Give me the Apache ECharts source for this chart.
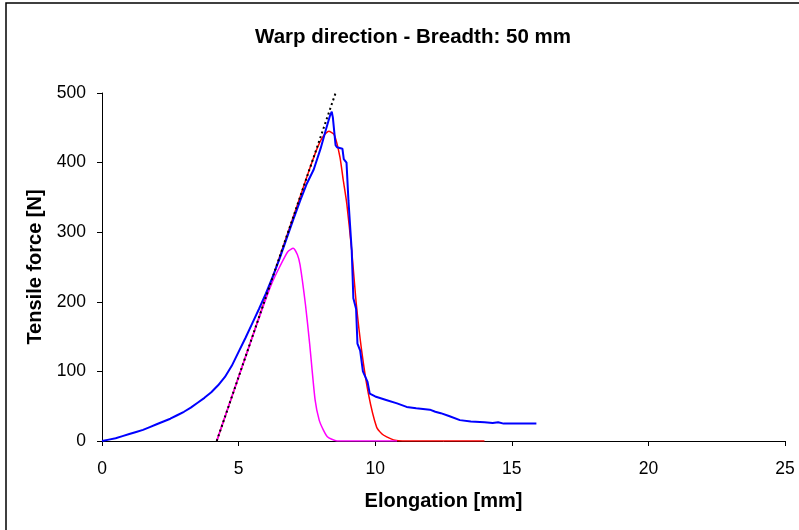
<!DOCTYPE html>
<html><head><meta charset="utf-8">
<script src="https://cdn.jsdelivr.net/npm/echarts@6/dist/echarts.min.js"></script>
<style>html,body{margin:0;padding:0;background:#fff}#c{width:799px;height:530px}</style>
</head><body><div id="c"></div>
<script>
const titleText = 'Warp direction - Breadth: 50 mm';
const xName = 'Elongation [mm]';
const yName = 'Tensile force [N]';
const xTicks = [0, 5, 10, 15, 20, 25];
const yTicks = [0, 100, 200, 300, 400, 500];

const measuredX = [0,0.25,0.5,0.75,1.0,1.25,1.5,1.75,2.0,2.25,2.5,2.75,3.0,3.25,3.5,3.75,4.0,4.25,4.5,4.75,5.0,5.25,5.5,5.75,6.0,6.25,6.5,6.75,7.0,7.25,7.5,7.75,8.0,8.2,8.35,8.41,8.45,8.5,8.55,8.6,8.8,8.85,8.95,9.02,9.14,9.2,9.3,9.35,9.45,9.55,9.72,9.8,10.0,10.4,10.8,11.15,11.5,12.0,12.2,12.4,12.7,13.1,13.5,14.0,14.3,14.5,14.7,15.0,15.9];
const measuredY = [0,2,4,7,10,13,16,20,24,28,32,37,42,48,55,62,70,80,92,108,128,148,169,190,212,236,262,290,318,345,370,390,420,448,468,473,465,445,425,422,420,405,400,346,274,205,190,140,130,100,85,68,64,59,54,49,47,45,42,40,36,30,28,27,26,27,25,25,25];

const fitX = [4.2,5.0,6.0,7.0,7.6,7.9,8.1,8.3,8.5,8.71,8.83,8.96,9.14,9.3,9.5,9.75,10.05,10.25,10.42,10.72,11.0,14.0];
const fitY = [0,92,207,322,391,423,438,445,440,408,375,341,274,200,131,68,20,10,6,1,0,0];

const partX = [4.2,5.0,5.85,6.2,6.5,6.8,7.0,7.15,7.25,7.45,7.6,7.8,7.95,8.1,8.25,8.41,8.6,10.8];
const partY = [0,92,188,225,250,272,277,268,253,195,140,59,30,16,6,2.5,0,0];

const tangentX = [4.2, 8.55];
const tangentY = [0, 500];

const zip = (a, b) => a.map((v, i) => [v, b[i]]);
const font = 'Liberation Sans, Arial, sans-serif';

const chart = echarts.init(document.getElementById('c'));
chart.setOption({
  animation: false,
  backgroundColor: '#fff',
  title: { text: titleText, left: 408, top: 22, textAlign: 'center',
    textStyle: { fontFamily: font, fontSize: 20.5, fontWeight: 'bold', color: '#000' } },
  graphic: [{ type: 'rect', shape: { x: 6, y: 3, width: 900, height: 900 },
    style: { fill: 'none', stroke: '#000', lineWidth: 1.5 }, silent: true }],
  grid: { left: 102, right: 14, top: 93, bottom: 89 },
  xAxis: {
    type: 'value', min: xTicks[0], max: xTicks[xTicks.length - 1], interval: 5,
    name: xName, nameLocation: 'middle', nameGap: 50,
    nameTextStyle: { fontFamily: font, fontSize: 20, fontWeight: 'bold', color: '#000' },
    axisLine: { lineStyle: { color: '#000', width: 1 } },
    axisTick: { show: true, inside: false, length: 5, lineStyle: { color: '#000' } },
    axisLabel: { fontFamily: font, fontSize: 17.5, color: '#000', margin: 19 },
    splitLine: { show: false }
  },
  yAxis: {
    type: 'value', min: yTicks[0], max: yTicks[yTicks.length - 1], interval: 100,
    name: yName, nameLocation: 'middle', nameGap: 57, nameRotate: 90,
    nameTextStyle: { fontFamily: font, fontSize: 20, fontWeight: 'bold', color: '#000' },
    axisLine: { show: true, lineStyle: { color: '#000', width: 1 } },
    axisTick: { show: true, inside: false, length: 5, lineStyle: { color: '#000' } },
    axisLabel: { fontFamily: font, fontSize: 17.5, color: '#000', margin: 16 },
    splitLine: { show: false }
  },
  series: [
    { type: 'line', data: zip(fitX, fitY), showSymbol: false, smooth: 0.2, lineStyle: { color: '#ff0000', width: 1.5 }, z: 2 },
    { type: 'line', data: zip(partX, partY), showSymbol: false, smooth: 0.2, lineStyle: { color: '#ff00ff', width: 1.5 }, z: 3 },
    { type: 'line', data: zip(measuredX, measuredY), showSymbol: false, lineStyle: { color: '#0000ff', width: 2 }, z: 4 },
    { type: 'line', data: zip(tangentX, tangentY), showSymbol: false, lineStyle: { color: '#000', width: 2, type: [2, 3] }, z: 5 }
  ]
});
</script></body></html>
